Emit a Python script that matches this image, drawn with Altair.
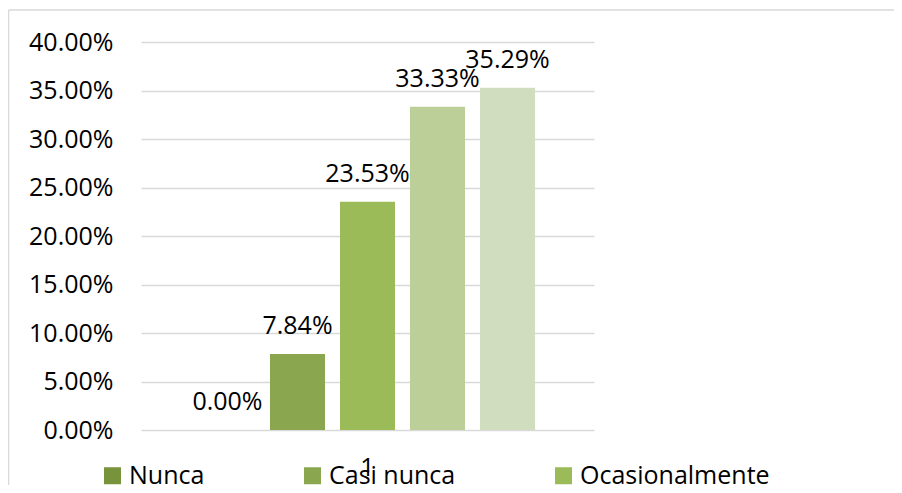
import altair as alt
import pandas as pd

categories = ["1", "1", "1", "1", "1"]
series = ["Nunca", "Casi nunca", "Ocasionalmente", "Casi siempre", "Siempre"]
values = [0.0, 0.0784, 0.2353, 0.3333, 0.3529]
colors = ["#77933c", "#8aa64f", "#9bbb59", "#bccf98", "#d1ddbf"]
legend_shown = ["Nunca", "Casi nunca", "Ocasionalmente"]
y_ticks = [0.0, 0.05, 0.10, 0.15, 0.20, 0.25, 0.30, 0.35, 0.40]

df = pd.DataFrame({"cat": categories, "serie": series, "valor": values})

FONT = "Open Sans"
FS = 25

x = alt.X(
    "cat:N",
    scale=alt.Scale(paddingOuter=0.176, paddingInner=0),
    axis=alt.Axis(title=None, labelAngle=0, domain=False, ticks=False,
                  labelFont=FONT, labelFontSize=FS, labelColor="#000000",
                  labelPadding=25, grid=False),
)
xo = alt.XOffset("serie:N", sort=series,
                 scale=alt.Scale(domain=series, paddingInner=0.2143, paddingOuter=0))
y = alt.Y(
    "valor:Q",
    scale=alt.Scale(domain=[0, 0.4], nice=False),
    axis=alt.Axis(values=y_ticks, format=".2%", title=None, domain=False, ticks=False,
                  labelPadding=28, gridColor="#d9d9d9", gridWidth=1.5,
                  labelFont=FONT, labelFontSize=FS, labelColor="#000000"),
)
color = alt.Color(
    "serie:N",
    sort=series,
    scale=alt.Scale(domain=series, range=colors),
    legend=alt.Legend(values=legend_shown, orient="none", legendX=-41, legendY=421,
                      direction="horizontal", title=None, symbolType="square",
                      symbolSize=289, symbolStrokeWidth=0, labelFont=FONT,
                      labelFontSize=FS, labelOffset=4, columnPadding=95,
                      labelLimit=400, padding=0, labelColor="#000000"),
)

bars = alt.Chart(df).mark_bar().encode(x=x, xOffset=xo, y=y, color=color)
labels = alt.Chart(df).mark_text(
    dy=-20, baseline="alphabetic", font=FONT, fontSize=FS, color="#000000"
).encode(x=x, xOffset=xo, y=y, text=alt.Text("valor:Q", format=".2%"))

one = pd.DataFrame({"a": [0]})
border_left = alt.Chart(one).mark_rule(color="#d9d9d9", strokeWidth=1.5).encode(
    x=alt.value(-132.5), y=alt.value(-32), y2=alt.value(700))
border_top = alt.Chart(one).mark_rule(color="#d9d9d9", strokeWidth=1.5).encode(
    x=alt.value(-132.5), x2=alt.value(900), y=alt.value(-32))

chart = alt.layer(border_left, border_top, bars, labels).properties(
    width=453, height=388,
    padding={"left": 133, "top": 34, "right": 300, "bottom": 55},
    autosize=alt.AutoSizeParams(type="none"),
    background="white",
).configure_view(stroke=None)

chart.save("out.html", embed_options={"renderer": "svg", "actions": False})
